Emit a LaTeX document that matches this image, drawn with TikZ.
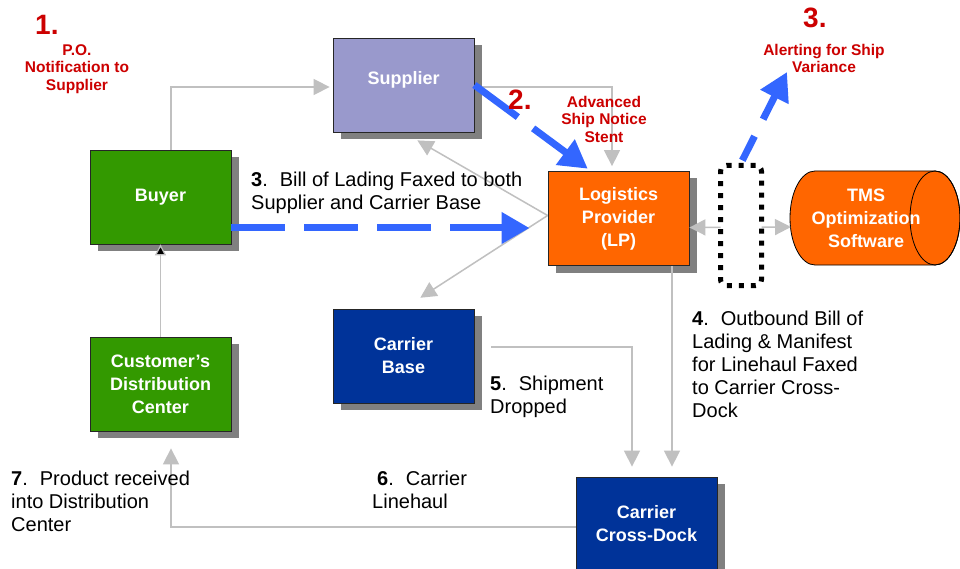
\documentclass[tikz,border=0pt]{standalone}
\usepackage{fontspec}
\setmainfont{Liberation Sans}
\usetikzlibrary{arrows.meta,shadows}
\definecolor{grayline}{HTML}{C0C0C0}
\definecolor{shadowgray}{HTML}{808080}
\definecolor{lav}{HTML}{9999CC}
\definecolor{grn}{HTML}{339900}
\definecolor{nav}{HTML}{003399}
\definecolor{org}{HTML}{FF6600}
\definecolor{redtxt}{HTML}{CC0000}
\definecolor{blu}{HTML}{3366FF}
\begin{document}
\begin{tikzpicture}[x=1pt,y=-1pt,
  box/.style={draw=black!85, line width=0.8pt, minimum width=141pt, minimum height=94pt,
    inner sep=0pt, text=white, align=center, font=\fontsize{18}{23}\selectfont\bfseries,
    general shadow={fill=shadowgray, shadow xshift=8pt, shadow yshift=-7pt}},
  garrow/.style={draw=grayline, line width=1.5pt, -{Triangle[length=16pt,width=16pt]}},
  barrow/.style={draw=blu, line width=7pt, dash pattern=on 54pt off 19pt,
    -{Triangle[length=28pt,width=30pt]}},
  bodytext/.style={font=\fontsize{20}{23}\selectfont, align=left, inner sep=0pt, anchor=north west},
  redlabel/.style={font=\fontsize{15.5}{17.5}\selectfont\bfseries, text=redtxt, align=center,
    inner sep=0pt, anchor=north},
  bignum/.style={font=\fontsize{28}{30}\selectfont\bfseries, text=redtxt, inner sep=0pt,
    anchor=base west},
  boxtext/.style={text=white, align=center, font=\fontsize{18}{23}\selectfont\bfseries, inner sep=0pt}
]
\fill[white] (0,0) rectangle (960,569);
\useasboundingbox (0,0) rectangle (960,569);

% boxes
\node[box, fill=lav] (Supplier) at (403.5,85) {\raisebox{0pt}[0pt][0pt]{Supplier}};
\node[box, fill=grn] (Buyer) at (160.5,197) {Buyer};
\node[box, fill=grn] (CDC) at (160.5,384) {Customer’s\\Distribution\\Center};
\node[box, fill=nav] (CarrierBase) at (403.5,356) {Carrier\\Base};
\node[box, fill=org] (LP) at (618.5,218.5) {Logistics\\Provider\\(LP)};
\node[box, fill=nav] (CrossDock) at (646.5,524) {Carrier\\Cross-Dock};

% cylinder
\filldraw[fill=org, draw=black, line width=0.8pt]
  (815,171) -- (935,171) arc[start angle=90,end angle=-90,x radius=25pt,y radius=47pt]
  -- (815,265) arc[start angle=270,end angle=90,x radius=25pt,y radius=47pt] -- cycle;
\draw[line width=0.8pt] (935,218) ellipse[x radius=25pt, y radius=47pt];
\node[boxtext] (TMS) at (866,218) {TMS\\Optimization\\Software};
\coordinate (tmsW) at (791,227);

% gray connectors
\draw[garrow, shorten >=3pt] ([xshift=10.5pt]Buyer.north) |- ([yshift=-2pt]Supplier.west);
\draw[garrow, shorten >=5pt] ([yshift=-2pt]Supplier.east) -| ([xshift=-6.5pt]LP.north);
\draw[garrow, shorten >=16pt] ([yshift=3pt]LP.west) -- (Supplier.south);
\draw[garrow, shorten >=20pt] ([yshift=3pt]LP.west) -- (CarrierBase.north);
\draw[draw=grayline, line width=1.5pt, {Triangle[length=16pt,width=16pt]}-{Triangle[length=16pt,width=16pt]}]
  ([yshift=-9pt]LP.east) -- (tmsW);
\coordinate (lpb) at ([xshift=53.5pt]LP.south);
\draw[garrow, shorten >=10pt] (lpb) -- (lpb |- CrossDock.north);
\coordinate (cdt) at ([xshift=-14.5pt]CrossDock.north);
\draw[garrow, shorten <=17pt, shorten >=10pt] ([yshift=9pt]CarrierBase.east) -| (cdt);
\coordinate (cdcb) at ([xshift=10.5pt]CDC.south);
\draw[garrow, shorten >=17pt] ([yshift=-3pt]CrossDock.west) -| (cdcb);
\draw[draw=grayline, line width=1.2pt, -{Triangle[length=11pt,width=11pt,fill=black]}] (CDC.north) -- (Buyer.south);

% dotted box
\node[draw=black, fill=white, line width=5pt, dash pattern=on 5pt off 7pt, rounded corners=6pt,
  minimum width=41pt, minimum height=120pt, inner sep=0pt] (Watch) at (741,225.5) {};

% blue arrows
\draw[barrow, shorten >=4pt] (Supplier.east) -- ([xshift=-27.5pt]LP.north);
\coordinate (bl) at ([yshift=-31pt]Buyer.east);
\draw[barrow, shorten >=18pt] (bl) -- (bl -| LP.west);
\coordinate (alertTip) at (787,72);
\draw[barrow, dash phase=27pt, shorten <=3pt] (Watch.north) -- (alertTip);

% red labels
\node[bignum] (n1) at (35,35) {1.};
\node[redlabel] (l1) at (77,44) {P.O.\\Notification to\\Supplier};
\node[bignum] (n2) at (508,110) {2.};
\node[redlabel] (l2) at (604,96) {Advanced\\Ship Notice\\Stent};
\node[bignum] (n3) at (803,28) {3.};
\node[redlabel] (l3) at (824,44) {Alerting for Ship\\Variance};

% body texts
\node[bodytext] (t3) at (251,171.6) {\textbf{3}.\hspace{12pt}Bill of Lading Faxed to both\\Supplier and Carrier Base};
\node[bodytext] (t4) at (692,310.6) {\textbf{4}.\hspace{12pt}Outbound Bill of\\Lading \& Manifest\\for Linehaul Faxed\\to Carrier Cross-\\Dock};
\node[bodytext] (t5) at (490,375.6) {\textbf{5}.\hspace{12pt}Shipment\\Dropped};
\node[bodytext] (t6) at (372,470.6) {\hspace*{5pt}\textbf{6}.\hspace{12pt}Carrier\\Linehaul};
\node[bodytext] (t7) at (11,470.6) {\textbf{7}.\hspace{12pt}Product received\\into Distribution\\Center};
\end{tikzpicture}
\end{document}
